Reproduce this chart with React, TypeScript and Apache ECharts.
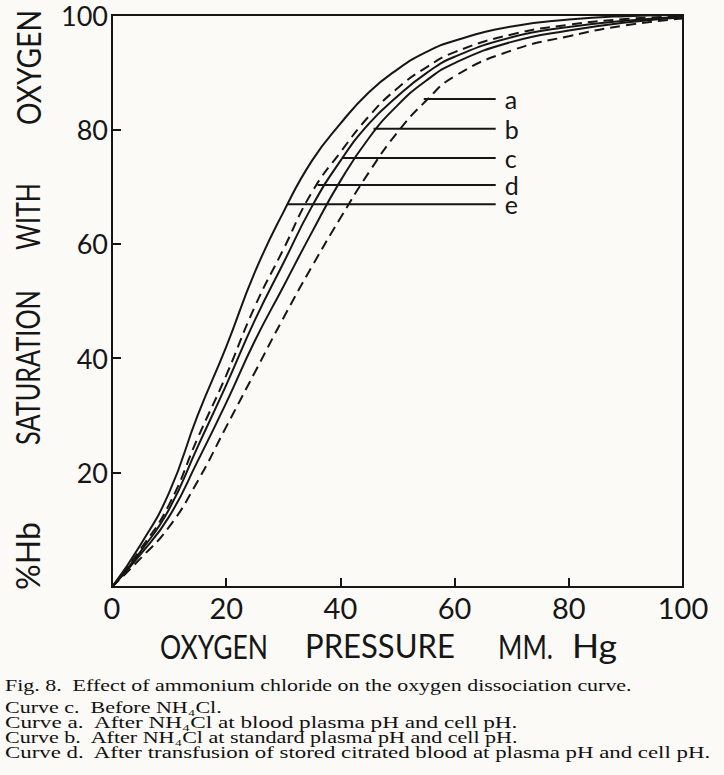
import React, { useEffect, useRef } from "react";
import * as echarts from "echarts";

// Oxygen pressure (mm Hg) sample points
const pressure = [0, 5, 10, 15, 20, 25, 30, 35, 40, 45, 50, 55, 60, 70, 80, 90, 100];
// % Hb saturation
const curveA = [0, 5, 10.5, 18.5, 28, 37.5, 47, 56, 64.5, 72.5, 79.5, 85, 89.3, 93.8, 96.3, 98.2, 99.4];
const curveB = [0, 5.7, 12.3, 22, 32.2, 43, 52.5, 62, 71, 78.5, 84.2, 88.5, 91.6, 95.3, 97.3, 98.7, 99.6];
const curveC = [0, 6.2, 13.6, 24.5, 35.3, 46.6, 56.6, 66.5, 74.5, 81, 85.8, 89.8, 92.7, 96.1, 97.9, 99, 99.7];
const curveD = [0, 6.6, 14.4, 26, 37, 49, 59, 69, 76, 82.3, 87.2, 90.8, 93.5, 96.6, 98.3, 99.3, 99.8];
const curveE = [0, 7.4, 16.5, 30, 42, 55, 65.5, 74.5, 81, 86.5, 90.5, 93.5, 95.5, 98, 99.2, 99.8, 100];

const curveNames = ["a", "b", "c", "d", "e"];
const curveDashed = [true, false, false, true, false];
// Leader lines to the curve letters
const leaderY = [85.3, 80.1, 75.0, 70.3, 66.9];
const leaderStartX = [54.6, 45.8, 40.4, 36.0, 30.7];
const leaderEndX = 67.2;

const xTitleWords = ["OXYGEN", "PRESSURE", "MM.", "Hg"];
const yTitleWords = ["%Hb", "SATURATION", "WITH", "OXYGEN"];

const captionLines = [
  "Fig. 8.  Effect of ammonium chloride on the oxygen dissociation curve.",
  "Curve c.  Before NH₄Cl.",
  "Curve a.  After NH₄Cl at blood plasma pH and cell pH.",
  "Curve b.  After NH₄Cl at standard plasma pH and cell pH.",
  "Curve d.  After transfusion of stored citrated blood at plasma pH and cell pH.",
];

const INK = "#161616";
const LETTER_FONT = "Lato";
const SERIF = "Liberation Serif";

export default function App() {
  const ref = useRef<HTMLDivElement>(null);

  useEffect(() => {
    if (!ref.current) return;
    const chart = echarts.init(ref.current, undefined, { renderer: "svg" });

    const canvas = document.createElement("canvas");
    const ctx = canvas.getContext("2d")!;
    const measure = (text: string, size: number, family: string) => {
      ctx.font = `${size}px "${family}"`;
      return ctx.measureText(text).width || 1;
    };

    const curves = [curveA, curveB, curveC, curveD, curveE];

    const curveSeries = curves.map((vals, i) => ({
      type: "line",
      name: "curve " + curveNames[i],
      data: pressure.map((p, j) => [p, vals[j]]),
      smooth: 0.5,
      showSymbol: false,
      symbol: "none",
      lineStyle: {
        color: INK,
        width: 2,
        type: curveDashed[i] ? [10, 6] : "solid",
      },
      z: 3,
    }));

    const leaderSeries = curveNames.map((n, i) => ({
      type: "line",
      name: "label " + n,
      data: [
        [leaderStartX[i], leaderY[i]],
        [leaderEndX, leaderY[i]],
      ],
      showSymbol: false,
      symbol: "none",
      lineStyle: { color: INK, width: 2 },
      endLabel: {
        show: true,
        formatter: () => n,
        color: INK,
        fontFamily: LETTER_FONT,
        fontSize: 25,
        lineHeight: 16,
        distance: 9,
      },
      z: 4,
    }));

    // Axis titles as fitted text
    const titleSize = 32;
    const xWordPos: [number, number][] = [
      [160, 268],
      [305, 455],
      [498, 553],
      [572, 617],
    ];
    const yWordPos: [number, number][] = [
      [590, 522],
      [445, 290],
      [250, 183],
      [125, 10],
    ];
    const graphics: any[] = [];
    xTitleWords.forEach((w, i) => {
      const [x0, x1] = xWordPos[i];
      const s = (x1 - x0) / measure(w, titleSize, LETTER_FONT);
      graphics.push({
        type: "text",
        x: x0,
        y: 646,
        scaleX: s,
        style: {
          text: w,
          fontFamily: LETTER_FONT,
          fontSize: titleSize,
          fill: INK,
          align: "left",
          verticalAlign: "middle",
        },
      });
    });
    yTitleWords.forEach((w, i) => {
      const [y0, y1] = yWordPos[i];
      const s = (y0 - y1) / measure(w, titleSize, LETTER_FONT);
      graphics.push({
        type: "text",
        x: 28,
        y: y0,
        rotation: Math.PI / 2,
        scaleX: s,
        style: {
          text: w,
          fontFamily: LETTER_FONT,
          fontSize: titleSize,
          fill: INK,
          align: "left",
          verticalAlign: "middle",
        },
      });
    });

    const capY = [685, 707, 722, 737, 752];
    const capRight = [632, 222, 519, 519, 712];
    captionLines.forEach((line, i) => {
      const size = 17;
      const s = (capRight[i] - 5) / measure(line, size, SERIF);
      graphics.push({
        type: "text",
        x: 5,
        y: capY[i],
        scaleX: s,
        style: {
          text: line,
          fontFamily: SERIF,
          fontSize: size,
          fill: "#111",
          align: "left",
          verticalAlign: "middle",
        },
      });
    });

    chart.setOption({
      animation: false,
      backgroundColor: "#fbfaf6",
      grid: {
        left: 112,
        right: 41,
        top: 15,
        bottom: 188,
        show: true,
        borderColor: INK,
        borderWidth: 2,
        backgroundColor: "transparent",
        containLabel: false,
      },
      xAxis: {
        type: "value",
        min: 0,
        max: 100,
        interval: 20,
        axisLine: { show: true, lineStyle: { color: INK, width: 2 } },
        axisTick: { show: true, inside: true, length: 9, lineStyle: { color: INK, width: 2 } },
        splitLine: { show: false },
        axisLabel: {
          color: INK,
          fontFamily: LETTER_FONT,
          fontSize: 29,
          margin: 6,
        },
      },
      yAxis: {
        type: "value",
        min: 0,
        max: 100,
        interval: 20,
        axisLine: { show: true, lineStyle: { color: INK, width: 2 } },
        axisTick: { show: true, inside: true, length: 9, lineStyle: { color: INK, width: 2 } },
        splitLine: { show: false },
        axisLabel: {
          color: INK,
          fontFamily: LETTER_FONT,
          fontSize: 27,
          lineHeight: 24,
          margin: 4,
          showMinLabel: false,
        },
      },
      series: [...curveSeries, ...leaderSeries],
      graphic: graphics,
    });

    return () => {
      chart.dispose();
    };
  }, []);

  return (
    <div
      ref={ref}
      style={{ position: "absolute", left: 0, top: 0, width: 724, height: 775 }}
    />
  );
}
